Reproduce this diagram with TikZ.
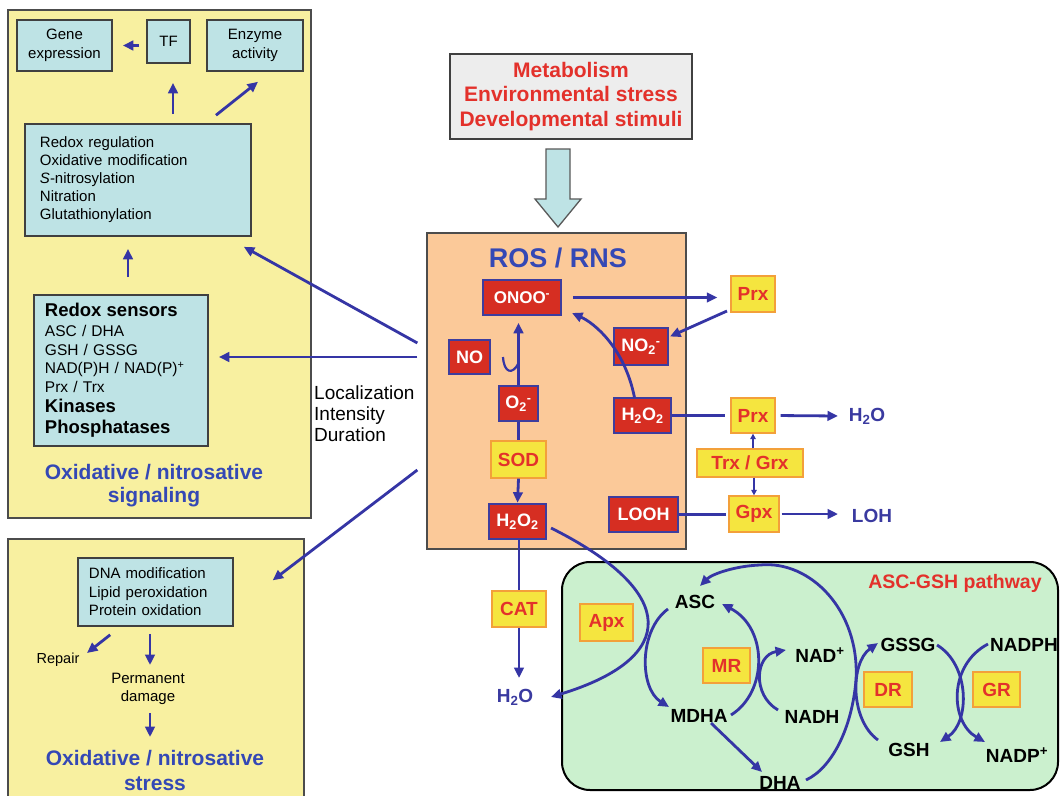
\documentclass[tikz,border=0pt]{standalone}
\usepackage{fontspec}
\setmainfont{Liberation Sans}
\usetikzlibrary{arrows.meta}
\definecolor{panelyellow}{HTML}{F8F0A0}
\definecolor{cyanbox}{HTML}{BEE3E5}
\definecolor{peach}{HTML}{FBC999}
\definecolor{greenbg}{HTML}{CBF0CE}
\definecolor{graybox}{HTML}{EDEDED}
\definecolor{ablue}{HTML}{3535A5}
\definecolor{redbox}{HTML}{D62E22}
\definecolor{redborder}{HTML}{3D3D9E}
\definecolor{ybox}{HTML}{F5E53F}
\definecolor{yborder}{HTML}{F3A03A}
\definecolor{tred}{HTML}{E3312B}
\definecolor{tblue}{HTML}{3448B5}
\definecolor{tblueb}{HTML}{3A3AA0}
\newcommand\setfs[2]{\fontsize{#1bp}{#2bp}\selectfont}
\begin{document}
\begin{tikzpicture}[x=1bp,y=-1bp,
  panel/.style={draw=black!70, fill=panelyellow, line width=1.3bp, inner sep=0pt},
  cbox/.style={draw=black!75, fill=cyanbox, line width=1.6bp, inner sep=0pt, align=center, font=\setfs{15}{19}},
  redb/.style={draw=redborder, fill=redbox, line width=1.6bp, inner sep=0pt, text=white, font={\bfseries\setfs{18}{20}}},
  yb/.style={draw=yborder, fill=ybox, line width=1.3bp, inner sep=0pt, text=tred, font={\bfseries\setfs{19}{21}}},
  lab/.style={inner sep=0pt, font={\bfseries\setfs{19}{21}}},
  bl/.style={lab, text=tblueb},
  arr/.style={draw=ablue, line width=2.8bp, -{Triangle[length=10.5bp,width=9.5bp]}},
  ln/.style={draw=ablue, line width=2.8bp},
  thinarr/.style={draw=ablue, line width=1.4bp, -{Triangle[length=5.5bp,width=5.5bp]}}]
\clip (0,0) rectangle (1063,796);
\fill[white] (0,0) rectangle (1063,796);

% ---------- left panels ----------
\node[panel, minimum width=303bp, minimum height=508bp] (sig) at (159.5,264) {};
\node[panel, minimum width=296bp, minimum height=270bp] (str) at (156,674) {};

\node[cbox, minimum width=95bp, minimum height=51bp] (gene) at (64.5,45.5) {Gene\\expression};
\node[cbox, minimum width=43bp, minimum height=43bp] (tf) at (168.5,41.5) {TF};
\node[cbox, minimum width=96bp, minimum height=51bp] (enz) at (255,45.5) {Enzyme\\activity};

\node[cbox, minimum width=226bp, minimum height=112bp, text width=196bp, align=left, font=\setfs{15}{18}] (reg) at (138,180)
  {Redox regulation\\Oxidative modification\\\textit{S}-nitrosylation\\Nitration\\Glutathionylation};

\node[cbox, minimum width=174bp, minimum height=151bp, text width=152bp, align=left, font=\setfs{15.5}{18.5}] (sens) at (121,370.5)
  {{\bfseries\setfs{18.5}{20}Redox sensors}\\[1.5bp]ASC / DHA\\GSH / GSSG\\NAD(P)H / NAD(P)\textsuperscript{+}\\Prx / Trx\\[1.5bp]{\bfseries\setfs{18.5}{20}Kinases}\\[3bp]{\bfseries\setfs{18.5}{20}Phosphatases}};

\node[inner sep=0pt, align=center, text=tblue, font={\bfseries\setfs{21}{23}}] (sigt) at (154,486) {Oxidative / nitrosative\\signaling};

\node[inner sep=0pt, align=left, anchor=west, font=\setfs{19}{21}] (loc) at (314,414) {Localization\\Intensity\\Duration};

\node[cbox, minimum width=155bp, minimum height=68bp, text width=133bp, align=left, font=\setfs{15}{18.5}] (dna) at (155.5,592)
  {DNA modification\\Lipid peroxidation\\Protein oxidation};
\node[inner sep=0pt, font=\setfs{14.5}{17}] (repair) at (58,660) {Repair};
\node[inner sep=0pt, align=center, font=\setfs{15}{18}] (perm) at (148,689) {Permanent\\damage};
\node[inner sep=0pt, align=center, text=tblue, font={\bfseries\setfs{21}{25}}] (strt) at (155,770) {Oxidative / nitrosative\\stress};

% ---------- top ----------
\node[draw=black!75, fill=graybox, line width=1.6bp, minimum width=242bp, minimum height=85bp, inner sep=0pt, align=center, text=tred, font={\bfseries\setfs{21}{24.5}}] (top) at (571,96.5)
  {Metabolism\\Environmental stress\\Developmental stimuli};
\draw[draw=black!65, fill=cyanbox, line width=1.3bp] (546,149) -- (570,149) -- (570,199) -- (581,199) -- (558,227) -- (535,199) -- (546,199) -- cycle;

% ---------- ROS box ----------
\node[draw=black!70, fill=peach, line width=1.3bp, minimum width=259bp, minimum height=316bp, inner sep=0pt] (ros) at (556.5,391) {};
\node[inner sep=0pt, text=tblue, font={\bfseries\setfs{27}{30}}] (rost) at (558,258) {ROS / RNS};

\node[redb, minimum width=78bp, minimum height=35bp, font={\bfseries\setfs{17}{19}}] (onoo) at (522,297.5) {ONOO\textsuperscript{-}};
\node[redb, minimum width=41bp, minimum height=34bp] (no) at (469.5,357) {NO};
\node[redb, minimum width=39bp, minimum height=35bp] (o2) at (518.5,403.5) {O\textsubscript{2}\textsuperscript{-}};
\node[yb, minimum width=55bp, minimum height=37bp] (sod) at (518.5,459.5) {SOD};
\node[redb, minimum width=57bp, minimum height=35bp] (h2oa) at (517.5,521.5) {H\textsubscript{2}O\textsubscript{2}};
\node[redb, minimum width=54bp, minimum height=37bp] (no2) at (641,346.5) {NO\textsubscript{2}\textsuperscript{-}};
\node[redb, minimum width=57bp, minimum height=35bp] (h2ob) at (642.5,415.5) {H\textsubscript{2}O\textsubscript{2}};
\node[redb, minimum width=69bp, minimum height=35bp] (looh) at (643.5,514.5) {LOOH};

\node[yb, minimum width=44bp, minimum height=36bp] (prxa) at (753,294) {Prx};
\node[yb, minimum width=44bp, minimum height=35bp] (prxb) at (753,415.5) {Prx};
\node[yb, minimum width=106bp, minimum height=28bp] (trx) at (750,463) {Trx / Grx};
\node[yb, minimum width=50bp, minimum height=36bp] (gpx) at (754,514) {Gpx};
\node[bl] (wa) at (867,416) {H\textsubscript{2}O};
\node[bl] (loh) at (872,516) {LOH};
\node[yb, minimum width=54bp, minimum height=36bp] (cat) at (519,609) {CAT};
\node[bl] (wb) at (515,697) {H\textsubscript{2}O};

% ---------- ASC-GSH ----------
\node[draw=black, line width=2bp, fill=greenbg, rounded corners=28bp, minimum width=496bp, minimum height=228bp, inner sep=0pt] (asg) at (810,676) {};
\node[inner sep=0pt, text=tred, font={\bfseries\setfs{19.5}{22}}] (asgt) at (955,583) {ASC-GSH pathway};
\node[yb, minimum width=53bp, minimum height=37bp] (apx) at (606.5,622.5) {Apx};
\node[lab] (asc) at (695,602) {ASC};
\node[yb, minimum width=47bp, minimum height=35bp] (mr) at (726.5,665.5) {MR};
\node[lab] (mdha) at (699,716) {MDHA};
\node[lab] (nadp) at (820,655) {NAD\textsuperscript{+}};
\node[lab] (nadh) at (812,717) {NADH};
\node[lab] (dha) at (780,783) {DHA};
\node[lab] (gssg) at (908,645) {GSSG};
\node[lab] (nadph) at (1024,645) {NADPH};
\node[yb, minimum width=48bp, minimum height=35bp] (dr) at (888,689.5) {DR};
\node[yb, minimum width=47bp, minimum height=35bp] (gr) at (996.5,689.5) {GR};
\node[lab] (gsh) at (909,750) {GSH};
\node[lab] (nadpp) at (1017,755) {NADP\textsuperscript{+}};

% ---------- arrows: left ----------
\draw[arr, shorten <=7bp, shorten >=10bp] (tf.west |- gene.center) -- (gene.east);
\coordinate (tfa) at ([xshift=4.5bp]tf.south);
\draw[arr, shorten <=9bp, shorten >=19bp] (tfa |- reg.north) -- (tfa);
\draw[arr] ([shift={(78,-8)}]reg.north) -- ([shift={(3,10)}]enz.south);
\draw[arr] ([shift={(7,-17)}]sens.north) -- ([shift={(-10,12)}]reg.south);
\draw[arr] ([shift={(-9,-34)}]ros.west) -- ([shift={(10,-13.5)}]sens.east);
\draw[arr] ([shift={(-9,-48)}]ros.west) -- ([shift={(-8,10)}]reg.south east);
\draw[arr] ([shift={(-9,79)}]ros.west) -- ([shift={(-32,42)}]str.north east);
\draw[arr] ([shift={(33,8)}]dna.south west) -- ([shift={(29,-7)}]repair.center);
\draw[arr] ([shift={(-5.5,7)}]dna.south) -- ([shift={(2,-24)}]perm.center);
\draw[arr] ([shift={(2,24)}]perm.center) -- ([shift={(-5,-33)}]strt.center);

% ---------- arrows: ROS ----------
\draw[arr, shorten >=7bp] (o2.north) -- (o2.north |- onoo.south);
\draw[ln, line width=2.2bp] ([shift={(33.5,0)}]no.center) .. controls +(1,16) and +(-6,12) .. ([shift={(0,-22)}]o2.north);
\draw[ln] (o2.south) -- (sod.north);
\draw[arr, shorten >=0.5bp] (sod.south) -- (h2oa.north);
\draw[arr] ([shift={(-8,-18)}]h2ob.center) .. controls +(-10,-50) and +(22,10) .. ([shift={(50,15.5)}]onoo.center);
\draw[arr, shorten <=11bp, shorten >=13bp] (onoo.east) -- (onoo.east -| prxa.west);
\draw[arr] ([shift={(-26,17)}]prxa.center) -- ([shift={(29,-10)}]no2.center);
\draw[ln, shorten >=5bp] (h2ob.east) -- (prxb.west);
\draw[arr, shorten <=5bp] (prxb.east) -- ([shift={(-29,0)}]wa.center);
\draw[thinarr] (prxb.south |- trx.north) -- (prxb.south);
\draw[thinarr] (gpx.north |- trx.south) -- (gpx.north);
\draw[ln, shorten >=2bp] (looh.east) -- (looh.east -| gpx.west);
\draw[arr, shorten <=2bp] (gpx.east) -- ([shift={(-34,-2)}]loh.center);
\draw[ln] (h2oa.south -| cat.north) -- (cat.north);
\draw[arr] (cat.south) -- ([shift={(4,-19)}]wb.center);
\draw[arr] ([shift={(33.5,6.5)}]h2oa.center) .. controls +(128,64) and +(128,-39) .. ([shift={(36,0)}]wb.center);

% ---------- arrows: ASC-GSH ----------
\draw[arr] ([shift={(-27,7)}]asc.center) .. controls +(-29,21) and +(-30,-19) .. ([shift={(-30,-9)}]mdha.center);
\draw[arr] ([shift={(32,-1)}]mdha.center) .. controls +(37,-23) and +(46,24) .. ([shift={(27,2)}]asc.center);
\draw[arr] ([shift={(-34,-7)}]nadh.center) .. controls +(-26,-15) and +(-31,5) .. ([shift={(-34,-5)}]nadp.center);
\draw[arr] ([shift={(12,7)}]mdha.center) -- ([shift={(-18,-11)}]dha.center);
\draw[arr] ([shift={(26,-3)}]dha.center) .. controls +(26,-12) and +(-4,48) .. (856,680)
   .. controls +(4,-70) and +(50,-5) .. (760,565)
   .. controls +(-25,1) and +(12,-12) .. ([shift={(5,-16)}]asc.center);
\draw[arr] ([shift={(-31,-10)}]gsh.center) .. controls +(-28,-20) and +(-28,20) .. ([shift={(-30,-2)}]gssg.center);
\draw[arr] ([shift={(29,0)}]gssg.center) .. controls +(33,20) and +(30,-20) .. ([shift={(31,-8)}]gsh.center);
\draw[arr] ([shift={(-36,-1)}]nadph.center) .. controls +(-40,21) and +(-35,-20) .. ([shift={(-32,-13)}]nadpp.center);
\end{tikzpicture}
\end{document}
